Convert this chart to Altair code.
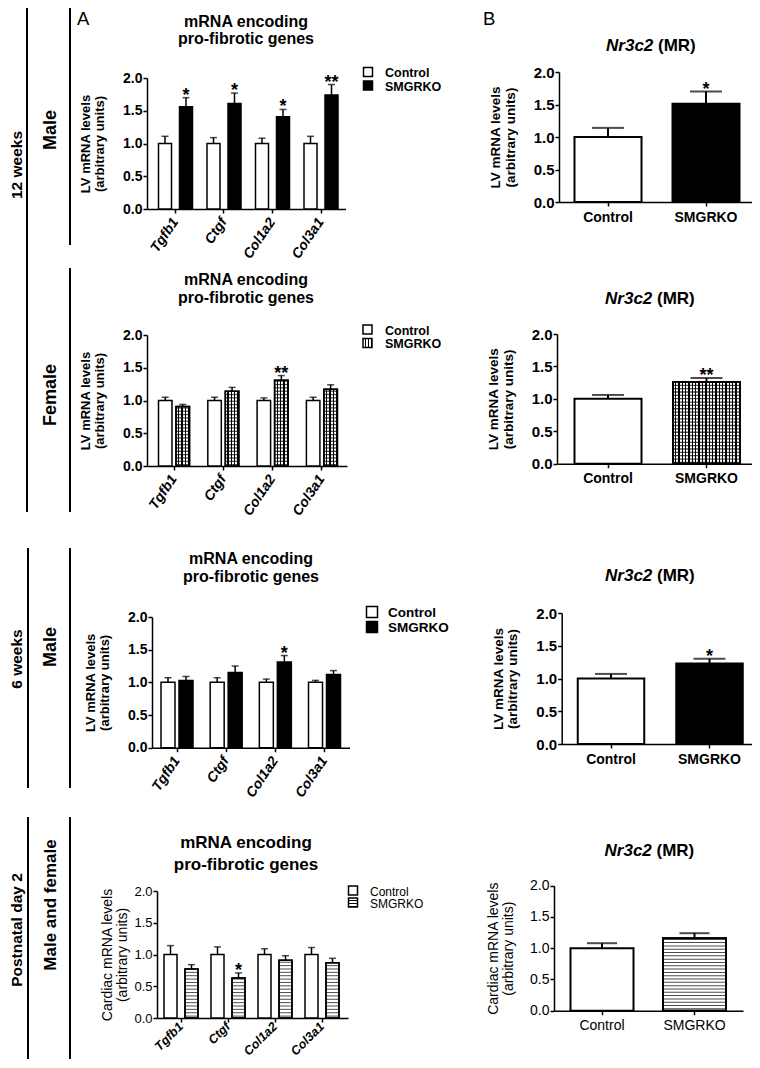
import altair as alt
import pandas as pd

# ---------------- data ----------------
genes = ["Tgfb1", "Ctgf", "Col1a2", "Col3a1"]
groups = ["Control", "SMGRKO"]

# 12 weeks, male : mRNA encoding pro-fibrotic genes (LV)
m12_ctrl = [1.00, 1.00, 1.00, 1.00]
m12_ctrl_sem = [0.11, 0.09, 0.08, 0.11]
m12_ko = [1.56, 1.61, 1.41, 1.74]
m12_ko_sem = [0.14, 0.16, 0.11, 0.16]
m12_sig = ["*", "*", "*", "**"]

# 12 weeks, female
f12_ctrl = [1.00, 1.00, 1.00, 1.00]
f12_ctrl_sem = [0.05, 0.05, 0.04, 0.05]
f12_ko = [0.91, 1.14, 1.31, 1.17]
f12_ko_sem = [0.03, 0.06, 0.07, 0.07]
f12_sig = ["", "", "**", ""]

# 6 weeks, male
m6_ctrl = [1.00, 1.00, 1.00, 1.00]
m6_ctrl_sem = [0.07, 0.07, 0.05, 0.03]
m6_ko = [1.03, 1.15, 1.31, 1.12]
m6_ko_sem = [0.06, 0.10, 0.10, 0.06]
m6_sig = ["", "", "*", ""]

# postnatal day 2, male and female (cardiac)
p2_ctrl = [1.00, 1.00, 1.00, 1.00]
p2_ctrl_sem = [0.14, 0.12, 0.09, 0.11]
p2_ko = [0.77, 0.63, 0.91, 0.87]
p2_ko_sem = [0.07, 0.08, 0.07, 0.07]
p2_sig = ["", "*", "", ""]

# Nr3c2 (MR)
m12_mr = [1.00, 1.51]
m12_mr_sem = [0.14, 0.19]
m12_mr_sig = ["", "*"]
f12_mr = [1.00, 1.26]
f12_mr_sem = [0.06, 0.06]
f12_mr_sig = ["", "**"]
m6_mr = [1.00, 1.23]
m6_mr_sem = [0.07, 0.07]
m6_mr_sig = ["", "*"]
p2_mr = [1.00, 1.16]
p2_mr_sem = [0.08, 0.08]
p2_mr_sig = ["", ""]

# ---------------- layout helpers ----------------
W, H, M = 744, 1052, 8
FONT = "Liberation Sans"


def P(v):
    return v - M


def long_table(ctrl, ctrl_sem, ko, ko_sem, sig):
    rows = []
    for i, g in enumerate(genes):
        rows.append(dict(gene=g, group=groups[0], mean=ctrl[i], top=ctrl[i] + ctrl_sem[i], sig=""))
        rows.append(dict(gene=g, group=groups[1], mean=ko[i], top=ko[i] + ko_sem[i], sig=sig[i]))
    return pd.DataFrame(rows)


def pair_table(vals, sems, sig):
    return pd.DataFrame(dict(group=groups, mean=vals,
                             top=[v + s for v, s in zip(vals, sems)], sig=sig))


def one_row():
    return pd.DataFrame({"k": [0]})


def stripe_gradient(n, white_frac, along_x=True):
    """hard-edged black/white stripes used as a hatch texture"""
    stops = []
    for i in range(n):
        a, b, c = i / n, (i + white_frac) / n, (i + 1) / n
        stops += [alt.GradientStop(offset=a, color="white"), alt.GradientStop(offset=b, color="white"),
                  alt.GradientStop(offset=b, color="black"), alt.GradientStop(offset=c, color="black")]
    if along_x:
        return alt.LinearGradient(gradient="linear", stops=stops, x1=0, x2=1, y1=0, y2=0)
    return alt.LinearGradient(gradient="linear", stops=stops, x1=0, x2=0, y1=0, y2=1)


def text_mark(txt, x, y, size, weight="bold", style="normal", align="center",
              baseline="alphabetic", angle=0, font=FONT):
    return alt.Chart(one_row()).mark_text(
        text=txt, font=font, fontSize=size, fontWeight=weight, fontStyle=style,
        align=align, baseline=baseline, angle=angle, color="black"
    ).encode(x=alt.value(P(x)), y=alt.value(P(y)))


def vline(x, y1, y2, width=2):
    return alt.Chart(one_row()).mark_rule(color="black", strokeWidth=width).encode(
        x=alt.value(P(x)), y=alt.value(P(y1)), y2=alt.value(P(y2)))


def bar_layers(base, Y, g, pattern, sw):
    ko = base.transform_filter(alt.datum.group == groups[1])
    ctrl = base.transform_filter(alt.datum.group == groups[0])
    out = [ctrl.mark_bar(fill="white", stroke="black", strokeWidth=sw).encode(y=Y("mean"))]
    if pattern == "solid":
        out.append(ko.mark_bar(fill="black", stroke="black", strokeWidth=sw).encode(y=Y("mean")))
        return out
    if pattern == "checker":
        out.append(ko.mark_bar(fill=stripe_gradient(g["nchk"], 0.6), stroke="black",
                               strokeWidth=sw).encode(y=Y("mean")))
        seq, th = "sequence(0.02, datum.mean, %g)" % g["hstep"], 1.3
    else:
        out.append(ko.mark_bar(fill="white", stroke="black", strokeWidth=sw).encode(y=Y("mean")))
        seq, th = "sequence(0.03, datum.mean, %g)" % g["hstep"], 1
    out.append(ko.transform_calculate(s=seq).transform_flatten(["s"])
               .mark_tick(orient="horizontal", color="black", size=g["w"], thickness=th)
               .encode(y=Y("s")))
    out.append(ko.mark_bar(fillOpacity=0, stroke="black", strokeWidth=sw).encode(y=Y("mean")))
    return out


def left_panel(df, g, pattern):
    L = g["xe"] - g["ax"]
    extra = max(L - 4 * g["step"], 0.01)
    po = extra / (2 * g["step"])
    al = min(max((g["c1"] - g["step"] / 2 - g["ax"]) / extra, 0), 1)
    so = g["w"] + g["gap"]
    pio = g["gap"] / so
    poo = (g["step"] / so - 2 + pio) / 2
    weight = "bold" if g["bold"] else "normal"

    xaxis = alt.Axis(orient="bottom", offset=P(g["yz"]) - H, title=None,
                     labelAngle=g["la"], labelAlign="right", labelBaseline="middle",
                     labelPadding=g["lpad"], labelFont=FONT, labelFontSize=g["lab_fs"],
                     labelFontStyle="italic", labelFontWeight="bold", labelColor="black",
                     labelOverlap=False, labelLimit=200, tickSize=4, tickWidth=1.5,
                     tickColor="black", domainColor="black", domainWidth=1.5)
    yaxis = alt.Axis(orient="left", offset=-P(g["ax"]), values=[0, 0.5, 1, 1.5, 2],
                     format=".1f", grid=False, tickSize=4, tickWidth=1.5, tickColor="black",
                     domainColor="black", domainWidth=1.5, labelFont=FONT,
                     labelFontSize=g["tick_fs"], labelFontWeight=weight, labelColor="black",
                     labelPadding=1, labelFlush=False, labelOverlap=False,
                     title=g["ytitle"], titleFont=FONT, titleFontSize=g["ytfs"],
                     titleFontWeight=weight, titleColor="black", titlePadding=g["tpad"],
                     titleLineHeight=g["ytfs"] + 1)
    xs = alt.Scale(domain=genes, range=[P(g["ax"]), P(g["xe"])], paddingInner=0,
                   paddingOuter=po, align=al)
    ys = alt.Scale(domain=[0, 2], range=[P(g["yz"]), P(g["yt"])], nice=False, zero=False)
    xos = alt.Scale(domain=groups, paddingInner=pio, paddingOuter=poo)

    def Y(f):
        return alt.Y(f, type="quantitative", scale=ys, axis=yaxis)

    base = alt.Chart(df).encode(x=alt.X("gene:N", scale=xs, axis=xaxis),
                                xOffset=alt.XOffset("group:N", scale=xos))
    layers = bar_layers(base, Y, g, pattern, 1.5)
    layers += [
        base.mark_rule(color="black", strokeWidth=1.5).encode(y=Y("mean"), y2=alt.Y2("top")),
        base.mark_tick(orient="horizontal", color="black", size=g["cap"], thickness=1.5).encode(y=Y("top")),
        base.mark_text(font=FONT, fontSize=18, fontWeight="bold", color="black", dy=3,
                       baseline="alphabetic").encode(y=Y("top"), text="sig:N"),
    ]
    panel = alt.layer(*layers)

    deco = [
        text_mark("mRNA encoding", g["tx"], g["ty"], g["tfs"]),
        text_mark("pro-fibrotic genes", g["tx"], g["ty"] + g["tls"], g["tfs"]),
    ]
    # legend
    lg = pd.DataFrame({"group": groups, "label": groups})
    lbase = alt.Chart(lg).encode(
        y=alt.Y("group:N", scale=alt.Scale(type="point", domain=groups,
                                            range=[P(g["lsq_y"][0]), P(g["lsq_y"][1])], padding=0),
                axis=None),
        x=alt.value(P(g["lsq_x"])))
    sq = dict(shape="square", size=g["lsq"] ** 2, filled=True, stroke="black",
              strokeWidth=1.5, opacity=1)
    legend = alt.layer(
        lbase.transform_filter(alt.datum.group == groups[0]).mark_point(fill="white", **sq),
        lbase.transform_filter(alt.datum.group == groups[1]).mark_point(fill=g["lg_fill"], **sq),
        lbase.mark_text(align="left", baseline="middle", font=FONT, fontSize=g["lfs"],
                        fontWeight=weight, color="black", dy=1).encode(
            x=alt.value(P(g["ltx"])), text="label:N"),
    )
    return [panel, legend] + deco


def right_panel(df, g, pattern):
    S = g["c2"] - g["c1"]
    pi = (S - g["w"]) / S
    L = g["xe"] - g["ax"]
    extra = max(L - S * (2 - pi), 0.01)
    po = (L / S - 2 + pi) / 2
    al = min(max((g["c1"] - g["w"] / 2 - g["ax"]) / extra, 0), 1)
    weight = "bold" if g["bold"] else "normal"

    xaxis = alt.Axis(orient="bottom", offset=P(g["yz"]) - H, title=None, labelAngle=0,
                     labelPadding=4, labelFont=FONT, labelFontSize=14, labelFontWeight=weight,
                     labelColor="black", tickSize=4, tickWidth=1.5, tickColor="black",
                     domainColor="black", domainWidth=1.5)
    yaxis = alt.Axis(orient="left", offset=-P(g["ax"]), values=[0, 0.5, 1, 1.5, 2],
                     format=".1f", grid=False, tickSize=4, tickWidth=1.5, tickColor="black",
                     domainColor="black", domainWidth=1.5, labelFont=FONT,
                     labelFontSize=g["tick_fs"], labelFontWeight=weight, labelColor="black",
                     labelPadding=1, labelFlush=False, labelOverlap=False,
                     title=g["ytitle"], titleFont=FONT, titleFontSize=g["ytfs"],
                     titleFontWeight=weight, titleColor="black", titlePadding=g["tpad"],
                     titleLineHeight=g["ytfs"] + 1)
    xs = alt.Scale(domain=groups, range=[P(g["ax"]), P(g["xe"])], paddingInner=pi,
                   paddingOuter=po, align=al)
    ys = alt.Scale(domain=[0, 2], range=[P(g["yz"]), P(g["yt"])], nice=False, zero=False)

    def Y(f):
        return alt.Y(f, type="quantitative", scale=ys, axis=yaxis)

    base = alt.Chart(df).encode(x=alt.X("group:N", scale=xs, axis=xaxis))
    layers = bar_layers(base, Y, g, pattern, 2)
    layers += [
        base.mark_rule(color="black", strokeWidth=2).encode(y=Y("mean"), y2=alt.Y2("top")),
        base.mark_tick(orient="horizontal", color="black", size=g["cap"], thickness=2).encode(y=Y("top")),
        base.mark_text(font=FONT, fontSize=18, fontWeight="bold", color="black", dy=3,
                       baseline="alphabetic").encode(y=Y("top"), text="sig:N"),
    ]
    panel = alt.layer(*layers)
    cx, ty, fs = g["tx"], g["ty"], 17
    deco = [
        text_mark("Nr3c2", cx + 2.3, ty, fs, style="italic", align="right"),
        text_mark("(MR)", cx + 7.0, ty, fs, align="left"),
    ]
    return [panel] + deco


LV = ["LV mRNA levels", "(arbitrary units)"]
CARD = ["Cardiac mRNA levels", "(arbitrary units)"]

left_geo = [
    dict(ax=147, xe=345.5, c1=175.5, step=48.5, yz=209, yt=78, w=13, gap=8, cap=7,
         tx=246, ty=26.5, tls=17.5, tfs=16, lsq_x=368, lsq_y=(72, 85.5), lsq=9, ltx=385, lfs=12.5,
         la=-56, lab_fs=14, lpad=6, tick_fs=14, bold=True, ytitle=LV, ytfs=13, tpad=16,
         lg_fill="black"),
    dict(ax=147, xe=347, c1=174, step=49.3, yz=466, yt=335, w=13.5, gap=4, cap=7,
         tx=246, ty=285, tls=18, tfs=16, lsq_x=367.5, lsq_y=(329.5, 343), lsq=9, ltx=385, lfs=12.5,
         la=-56, lab_fs=14, lpad=6, tick_fs=14, bold=True, ytitle=LV, ytfs=13, tpad=16,
         lg_fill=stripe_gradient(3, 0.6), nchk=4, hstep=0.051),
    dict(ax=152, xe=349.5, c1=177, step=49.17, yz=747.7, yt=617, w=14, gap=4, cap=7,
         tx=251, ty=563.5, tls=18, tfs=16, lsq_x=372, lsq_y=(612, 627), lsq=11, ltx=388, lfs=13.5,
         la=-56, lab_fs=14, lpad=6, tick_fs=14, bold=True, ytitle=LV, ytfs=13, tpad=16,
         lg_fill="black"),
    dict(ax=157, xe=348, c1=181, step=47, yz=1018, yt=891, w=13, gap=8, cap=7,
         tx=246, ty=848, tls=22, tfs=17, lsq_x=353, lsq_y=(890.5, 902.5), lsq=9, ltx=370, lfs=12,
         la=-45, lab_fs=12.5, lpad=2, tick_fs=13, bold=False, ytitle=CARD, ytfs=14, tpad=4,
         lg_fill=stripe_gradient(3, 0.65, along_x=False), hstep=0.053),
]

right_geo = [
    dict(ax=559, xe=757, c1=608, c2=706, w=67, cap=32, yz=202, yt=72, tx=651, ty=51,
         tick_fs=15, bold=True, ytitle=LV, ytfs=13.5, tpad=16),
    dict(ax=557, xe=755, c1=608, c2=706.5, w=67, cap=32, yz=463.7, yt=334, tx=650, ty=304,
         tick_fs=15, bold=True, ytitle=LV, ytfs=13.5, tpad=16, nchk=20, hstep=0.0517),
    dict(ax=561.7, xe=759, c1=611, c2=709.5, w=66.5, cap=32, yz=744, yt=613, tx=650, ty=581,
         tick_fs=15, bold=True, ytitle=LV, ytfs=13.5, tpad=16),
    dict(ax=554, xe=743, c1=602, c2=694.5, w=63, cap=30, yz=1010.7, yt=885.7, tx=649.5, ty=856,
         tick_fs=14, bold=False, ytitle=CARD, ytfs=14, tpad=14, hstep=0.053),
]

layers = []
layers += left_panel(long_table(m12_ctrl, m12_ctrl_sem, m12_ko, m12_ko_sem, m12_sig), left_geo[0], "solid")
layers += left_panel(long_table(f12_ctrl, f12_ctrl_sem, f12_ko, f12_ko_sem, f12_sig), left_geo[1], "checker")
layers += left_panel(long_table(m6_ctrl, m6_ctrl_sem, m6_ko, m6_ko_sem, m6_sig), left_geo[2], "solid")
layers += left_panel(long_table(p2_ctrl, p2_ctrl_sem, p2_ko, p2_ko_sem, p2_sig), left_geo[3], "stripes")

layers += right_panel(pair_table(m12_mr, m12_mr_sem, m12_mr_sig), right_geo[0], "solid")
layers += right_panel(pair_table(f12_mr, f12_mr_sem, f12_mr_sig), right_geo[1], "checker")
layers += right_panel(pair_table(m6_mr, m6_mr_sem, m6_mr_sig), right_geo[2], "solid")
layers += right_panel(pair_table(p2_mr, p2_mr_sem, p2_mr_sig), right_geo[3], "stripes")

# panel letters and the left-hand group labels
layers += [
    text_mark("A", 77, 25, 18.5, weight="normal", align="left"),
    text_mark("B", 483, 25, 18.5, weight="normal", align="left"),
    vline(27, 8, 512), vline(70, 8, 245), vline(70, 268, 512),
    vline(28, 548, 788), vline(70, 548, 788),
    vline(28, 817, 1059), vline(70, 817, 1059),
    text_mark("12 weeks", 17, 165, 15.5, baseline="middle", angle=270),
    text_mark("Male", 51, 130, 18, baseline="middle", angle=270),
    text_mark("Female", 51, 395, 18, baseline="middle", angle=270),
    text_mark("6 weeks", 17, 659, 15.5, baseline="middle", angle=270),
    text_mark("Male", 51, 647, 18, baseline="middle", angle=270),
    text_mark("Postnatal day 2", 17, 930, 15.5, baseline="middle", angle=270),
    text_mark("Male and female", 51, 905, 17, baseline="middle", angle=270),
]

chart = (
    alt.layer(*layers)
    .resolve_scale(x="independent", y="independent", xOffset="independent")
    .resolve_axis(x="independent", y="independent")
    .properties(width=W, height=H, autosize=alt.AutoSizeParams(type="none"), padding=0,
                background="white")
    .configure_view(stroke=None)
)

chart.save("out.html", embed_options={"renderer": "svg", "actions": False})
